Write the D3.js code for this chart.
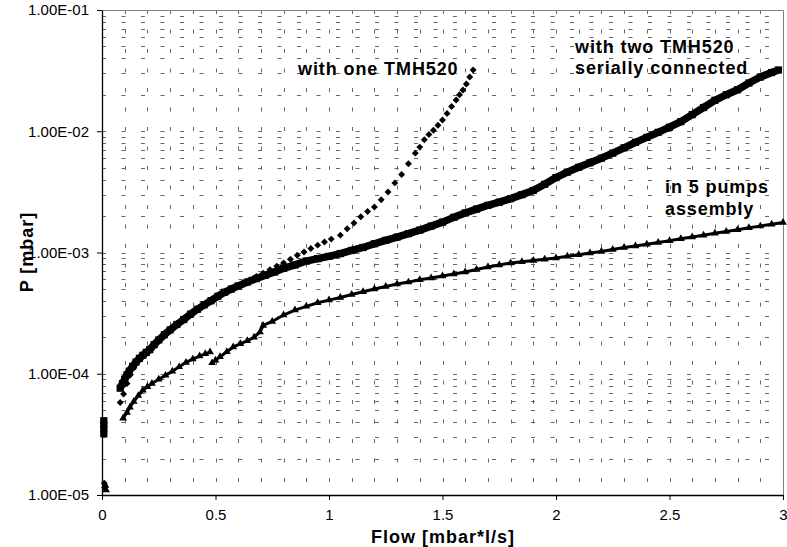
<!DOCTYPE html>
<html>
<head>
<meta charset="utf-8">
<script src="https://cdn.jsdelivr.net/npm/d3@7"></script>
<style>
  body { margin: 0; background: #fff; }
  text { font-family: Arial, "Liberation Sans", sans-serif; fill: #000; }
  .tick text { font-size: 15px; }
  .label { font-size: 18px; font-weight: bold; letter-spacing: 0.9px; }
  .title { font-size: 18px; font-weight: bold; letter-spacing: 1px; }
</style>
</head>
<body>
<svg id="chart"></svg>
<script>
// x ticks and y ticks of the chart
var xTicks = [0, 0.5, 1, 1.5, 2, 2.5, 3];
var yTicks = [1e-5, 1e-4, 1e-3, 1e-2, 1e-1];
var yTickLabels = ["1.00E-05", "1.00E-04", "1.00E-03", "1.00E-02", "1.00E-01"];

// [flow, pressure]
var oneTMH = [
  [0.01,1.25e-5],[0.012,1.15e-5],
  [0.08,5.8e-5],[0.095,6.8e-5],[0.11,8.3e-5],[0.125,9.8e-5],[0.14,1.12e-4],[0.16,1.28e-4],
  [0.18,1.42e-4],[0.20,1.55e-4],[0.23,1.75e-4],[0.26,1.98e-4],[0.29,2.22e-4],[0.32,2.48e-4],
  [0.35,2.73e-4],[0.38,3.0e-4],[0.41,3.3e-4],[0.44,3.6e-4],[0.47,3.9e-4],[0.50,4.2e-4],
  [0.53,4.55e-4],[0.56,4.9e-4],[0.59,5.25e-4],[0.62,5.6e-4],[0.65,5.95e-4],[0.68,6.35e-4],
  [0.71,6.75e-4],[0.74,7.2e-4],[0.77,7.7e-4],[0.80,8.2e-4],[0.83,8.8e-4],[0.86,9.5e-4],
  [0.89,1.01e-3],[0.92,1.08e-3],[0.95,1.15e-3],[0.98,1.22e-3],[1.01,1.29e-3],[1.05,1.39e-3],
  [1.08,1.57e-3],[1.11,1.75e-3],[1.14,1.97e-3],[1.17,2.18e-3],[1.20,2.37e-3],[1.23,2.72e-3],
  [1.26,3.15e-3],[1.29,3.75e-3],[1.32,4.4e-3],[1.35,5.4e-3],[1.38,6.6e-3],[1.40,7.4e-3],
  [1.42,8.5e-3],[1.44,9.4e-3],[1.46,1.02e-2],[1.48,1.12e-2],[1.50,1.24e-2],[1.52,1.4e-2],
  [1.54,1.6e-2],[1.56,1.81e-2],[1.575,2.0e-2],[1.59,2.19e-2],[1.605,2.45e-2],[1.62,2.8e-2],
  [1.635,3.2e-2]
];
var twoTMH = [
  [0.008,3.2e-5],[0.008,3.5e-5],[0.008,3.8e-5],[0.008,4.1e-5],
  [0.08,7.6e-5],[0.09,8.3e-5],[0.10,9.0e-5],[0.11,9.8e-5],[0.12,1.05e-4],[0.135,1.15e-4],
  [0.15,1.25e-4],[0.165,1.34e-4],[0.18,1.42e-4],[0.195,1.5e-4],[0.21,1.58e-4],[0.23,1.74e-4],
  [0.25,1.9e-4],[0.275,2.1e-4],[0.30,2.3e-4],[0.33,2.55e-4],[0.36,2.8e-4],[0.39,3.1e-4],
  [0.42,3.4e-4],[0.45,3.7e-4],[0.48,4.0e-4],[0.51,4.35e-4],[0.54,4.7e-4],[0.57,5.0e-4],
  [0.60,5.3e-4],[0.64,5.7e-4],[0.68,6.1e-4],[0.72,6.5e-4],[0.76,6.9e-4],[0.80,7.4e-4],
  [0.85,7.9e-4],[0.90,8.5e-4],[0.95,8.9e-4],[1.00,9.3e-4],[1.05,9.8e-4],[1.10,1.04e-3],
  [1.15,1.1e-3],[1.20,1.18e-3],[1.25,1.26e-3],[1.30,1.34e-3],[1.35,1.43e-3],[1.40,1.53e-3],
  [1.45,1.65e-3],[1.50,1.78e-3],[1.55,1.95e-3],[1.60,2.12e-3],[1.65,2.28e-3],[1.70,2.45e-3],
  [1.75,2.6e-3],[1.80,2.78e-3],[1.85,3.0e-3],[1.90,3.25e-3],[1.95,3.65e-3],[2.00,4.15e-3],
  [2.05,4.6e-3],[2.10,5.05e-3],[2.15,5.5e-3],[2.20,6.0e-3],[2.25,6.6e-3],[2.30,7.3e-3],
  [2.35,8.1e-3],[2.40,8.9e-3],[2.45,9.8e-3],[2.50,1.08e-2],[2.55,1.2e-2],[2.60,1.37e-2],
  [2.65,1.57e-2],[2.70,1.8e-2],[2.75,2.0e-2],[2.80,2.2e-2],[2.85,2.5e-2],[2.90,2.8e-2],
  [2.95,3.05e-2],[2.98,3.2e-2]
];
var fivePumpsA = [
  [0.015,1.2e-5],[0.018,1.1e-5],
  [0.093,4.3e-5],[0.11,4.8e-5],[0.123,5.3e-5],[0.14,5.9e-5],[0.16,6.6e-5],[0.18,7.3e-5],
  [0.20,7.8e-5],[0.22,8.3e-5],[0.25,9.0e-5],[0.28,9.7e-5],[0.31,1.05e-4],[0.34,1.14e-4],
  [0.37,1.24e-4],[0.40,1.32e-4],[0.43,1.4e-4],[0.455,1.46e-4],[0.476,1.51e-4]
];
var fivePumpsB = [
  [0.485,1.23e-4],[0.50,1.29e-4],[0.52,1.38e-4],[0.55,1.52e-4],[0.578,1.66e-4],[0.61,1.77e-4],
  [0.64,1.87e-4],[0.67,2.0e-4],[0.696,2.21e-4],[0.71,2.5e-4],[0.75,2.7e-4],[0.80,3.05e-4],
  [0.85,3.35e-4],[0.90,3.6e-4],[0.95,3.85e-4],[1.00,4.05e-4],[1.05,4.25e-4],[1.10,4.5e-4],
  [1.15,4.75e-4],[1.20,5.0e-4],[1.25,5.25e-4],[1.30,5.5e-4],[1.35,5.7e-4],[1.40,5.95e-4],
  [1.45,6.15e-4],[1.50,6.4e-4],[1.55,6.65e-4],[1.60,6.9e-4],[1.65,7.25e-4],[1.70,7.6e-4],
  [1.75,7.9e-4],[1.80,8.2e-4],[1.85,8.4e-4],[1.90,8.6e-4],[1.95,8.8e-4],[2.00,9.0e-4],
  [2.05,9.3e-4],[2.10,9.6e-4],[2.15,9.9e-4],[2.20,1.02e-3],[2.25,1.06e-3],[2.30,1.1e-3],
  [2.35,1.13e-3],[2.40,1.17e-3],[2.45,1.21e-3],[2.50,1.25e-3],[2.55,1.3e-3],[2.60,1.34e-3],
  [2.65,1.39e-3],[2.70,1.44e-3],[2.75,1.49e-3],[2.80,1.54e-3],[2.85,1.6e-3],[2.90,1.65e-3],
  [2.95,1.71e-3],[3.00,1.77e-3]
];

var svg = d3.select("#chart")
  .attr("width", 787)
  .attr("height", 547);

var margin = {top: 10, right: 4, bottom: 52, left: 102},
    width = +svg.attr("width") - margin.left - margin.right,
    height = +svg.attr("height") - margin.top - margin.bottom;

var x = d3.scaleLinear().domain([0, 3]).range([0, width]),
    y = d3.scaleLog().domain([1e-5, 1e-1]).range([height, 0]);

var g = svg.append("g")
  .attr("transform", "translate(" + margin.left + "," + margin.top + ")");

// dashed grid, every 0.1 on x and every minor log step on y
g.append("g").selectAll("line")
  .data(x.ticks(30).filter(function(d) { return d > 0 && d < 3; }))
  .enter().append("line")
  .attr("x1", function(d) { return Math.round(x(d)) + 0.5; })
  .attr("x2", function(d) { return Math.round(x(d)) + 0.5; })
  .attr("y1", 0).attr("y2", height)
  .attr("stroke", "#666")
  .attr("stroke-dasharray", "4,15.5");

g.append("g").selectAll("line")
  .data(y.ticks().filter(function(d) { return d > 1e-5 * 1.01 && d < 1e-1 * 0.99; }))
  .enter().append("line")
  .attr("y1", function(d) { return Math.round(y(d)) + 0.5; })
  .attr("y2", function(d) { return Math.round(y(d)) + 0.5; })
  .attr("x1", 0).attr("x2", width)
  .attr("stroke", "#666")
  .attr("stroke-dasharray", "4,15.5");

// top and right frame
g.append("path")
  .attr("d", "M0.5,0.5H" + (width + 0.5) + "V" + height)
  .attr("fill", "none")
  .attr("stroke", "#808080");

// axes
g.append("g")
  .attr("transform", "translate(0," + height + ")")
  .call(d3.axisBottom(x).tickValues(xTicks).tickSize(5).tickSizeOuter(0).tickPadding(9)
    .tickFormat(function(d) { return d3.format("")(d); }));

g.append("g")
  .call(d3.axisLeft(y).tickValues(yTicks).tickSize(5).tickSizeOuter(0).tickPadding(8)
    .tickFormat(function(d, i) { return yTickLabels[i]; }));

g.selectAll(".domain").attr("stroke", "#000").attr("stroke-width", 1.3);

// connecting bands for the dense marker runs
var line = d3.line()
  .x(function(d) { return x(d[0]); })
  .y(function(d) { return y(d[1]); });

g.append("path")
  .datum(twoTMH.slice(4))
  .attr("d", line)
  .attr("fill", "none").attr("stroke", "#000").attr("stroke-width", 7.5)
  .attr("stroke-linejoin", "round");

[fivePumpsA.slice(2), fivePumpsB].forEach(function(seg) {
  g.append("path")
    .datum(seg)
    .attr("d", line)
    .attr("fill", "none").attr("stroke", "#000").attr("stroke-width", 3);
});

function markers(data, type, size, rot) {
  g.append("g").selectAll("path")
    .data(data)
    .enter().append("path")
    .attr("d", d3.symbol().type(type).size(size))
    .attr("transform", function(d) {
      return "translate(" + x(d[0]) + "," + y(d[1]) + ") rotate(" + rot + ")";
    })
    .attr("fill", "#000");
}

markers(twoTMH, d3.symbolSquare, 52, 0);
markers(fivePumpsA.concat(fivePumpsB), d3.symbolTriangle, 26, 0);
markers(oneTMH, d3.symbolSquare, 24, 45);

// curve labels
var labels = [
  {t: "with one TMH520", x: 298, y: 75},
  {t: "with two TMH520", x: 575, y: 53},
  {t: "serially connected", x: 575, y: 74},
  {t: "in 5 pumps", x: 665, y: 193},
  {t: "assembly", x: 665, y: 215}
];
svg.selectAll(".label")
  .data(labels)
  .enter().append("text")
  .attr("class", "label")
  .attr("x", function(d) { return d.x; })
  .attr("y", function(d) { return d.y; })
  .text(function(d) { return d.t; });

// axis titles
svg.append("text")
  .attr("class", "title")
  .attr("x", 443)
  .attr("y", 543)
  .attr("text-anchor", "middle")
  .text("Flow [mbar*l/s]");

svg.append("text")
  .attr("class", "title")
  .attr("transform", "translate(33,252) rotate(-90)")
  .attr("text-anchor", "middle")
  .text("P [mbar]");
</script>
</body>
</html>
